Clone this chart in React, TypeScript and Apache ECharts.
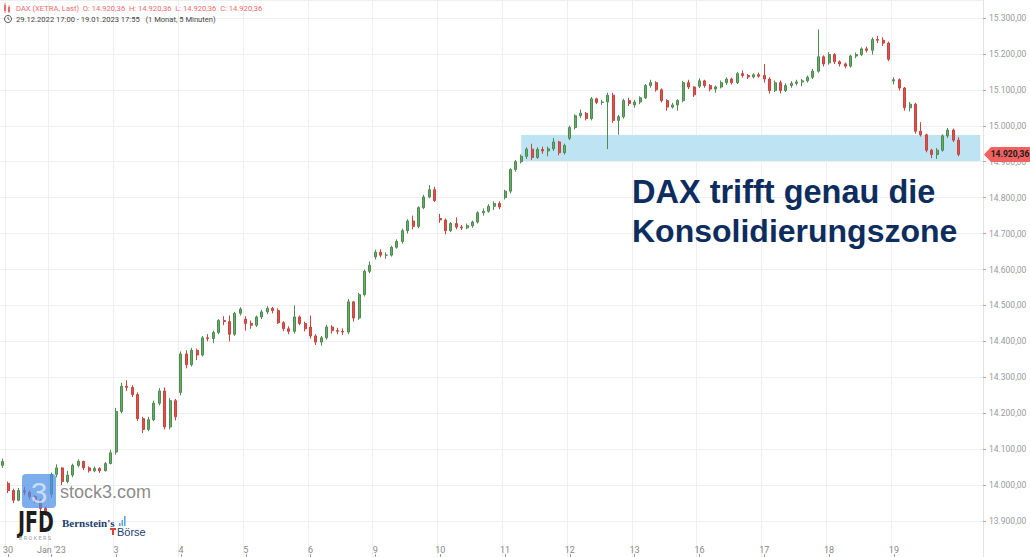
import React, { useEffect, useRef } from 'react';
import * as echarts from 'echarts';

// ---- DATA (each candle: [open, close, low, high]) ----
const dec29 = [[14055, 14066, 14048, 14074]];
const dec30 = [
  [14005, 13985, 13978, 14010], [13985, 13958, 13950, 13990], [13958, 13985, 13955, 13992], [13985, 13980, 13972, 13995],
  [13980, 13968, 13960, 13985], [13968, 13958, 13950, 13972], [13958, 13935, 13928, 13962], [13935, 13924, 13915, 13940],
];
const jan02 = [
  [13975, 14030, 13965, 14035], [14030, 14048, 14022, 14058], [14048, 14010, 14000, 14050], [14010, 14028, 14005, 14040],
  [14028, 14055, 14022, 14060], [14055, 14066, 14050, 14072], [14066, 14048, 14042, 14068], [14048, 14040, 14035, 14052],
  [14040, 14046, 14036, 14052], [14046, 14040, 14034, 14050], [14040, 14060, 14038, 14064], [14060, 14090, 14058, 14098],
];
const jan03 = [
  [14092, 14205, 14085, 14215], [14205, 14275, 14200, 14285], [14275, 14272, 14262, 14292], [14272, 14252, 14245, 14278],
  [14252, 14185, 14178, 14258], [14185, 14155, 14145, 14190], [14155, 14182, 14150, 14190], [14182, 14228, 14178, 14235],
  [14228, 14262, 14222, 14270], [14262, 14162, 14155, 14272], [14162, 14235, 14155, 14242], [14235, 14190, 14180, 14240],
];
const jan04 = [
  [14258, 14365, 14250, 14372], [14365, 14335, 14325, 14375], [14335, 14375, 14330, 14382], [14375, 14362, 14348, 14380],
  [14362, 14410, 14358, 14415], [14410, 14408, 14400, 14420], [14408, 14425, 14395, 14430], [14425, 14458, 14420, 14462],
  [14458, 14455, 14445, 14470], [14455, 14420, 14400, 14472], [14420, 14478, 14415, 14482], [14478, 14490, 14472, 14495],
];
const jan05 = [
  [14462, 14450, 14430, 14470], [14450, 14445, 14435, 14458], [14445, 14468, 14440, 14472], [14468, 14482, 14462, 14488],
  [14482, 14492, 14476, 14498], [14492, 14486, 14478, 14496], [14486, 14452, 14448, 14492], [14452, 14435, 14428, 14456],
  [14435, 14428, 14420, 14442], [14428, 14468, 14422, 14500], [14468, 14450, 14445, 14472], [14450, 14435, 14428, 14455],
];
const jan06 = [
  [14440, 14415, 14408, 14472], [14415, 14398, 14390, 14420], [14398, 14410, 14388, 14415], [14410, 14440, 14405, 14446],
  [14440, 14430, 14422, 14445], [14430, 14428, 14420, 14438], [14428, 14426, 14418, 14436], [14426, 14510, 14420, 14518],
  [14510, 14465, 14455, 14512], [14465, 14530, 14460, 14535], [14530, 14595, 14525, 14600], [14595, 14612, 14590, 14622],
];
const jan09 = [
  [14635, 14648, 14628, 14655], [14648, 14640, 14634, 14656], [14640, 14640, 14630, 14648], [14640, 14662, 14636, 14666],
  [14662, 14678, 14658, 14684], [14678, 14708, 14672, 14714], [14708, 14735, 14700, 14740], [14735, 14720, 14712, 14750],
  [14720, 14772, 14715, 14776], [14772, 14802, 14768, 14808], [14802, 14822, 14798, 14835], [14822, 14792, 14788, 14830],
];
const jan10 = [
  [14742, 14738, 14730, 14755], [14738, 14708, 14698, 14742], [14708, 14728, 14704, 14732], [14728, 14718, 14712, 14745],
  [14718, 14716, 14710, 14724], [14716, 14722, 14712, 14728], [14722, 14732, 14716, 14736], [14732, 14758, 14728, 14762],
  [14758, 14762, 14750, 14770], [14762, 14776, 14758, 14782], [14776, 14784, 14766, 14790], [14784, 14774, 14768, 14790],
];
const jan11 = [
  [14800, 14818, 14795, 14822], [14818, 14878, 14812, 14882], [14878, 14900, 14872, 14905], [14900, 14915, 14895, 14920],
  [14915, 14935, 14908, 14940], [14935, 14912, 14905, 14950], [14912, 14934, 14908, 14940], [14934, 14930, 14922, 14942],
  [14930, 14936, 14915, 14942], [14936, 14955, 14930, 14966], [14955, 14925, 14918, 14958], [14925, 14945, 14920, 14950],
];
const jan12 = [
  [14965, 14995, 14960, 15000], [14995, 15028, 14990, 15032], [15028, 15035, 15022, 15045], [15035, 15020, 15015, 15038],
  [15020, 15075, 15015, 15080], [15075, 15065, 15060, 15078], [15065, 15066, 15058, 15072], [15066, 15085, 14935, 15092],
  [15085, 15015, 15008, 15092], [15015, 15025, 14975, 15030], [15025, 15070, 15020, 15075], [15070, 15062, 15055, 15078],
];
const jan13 = [
  [15058, 15066, 15050, 15072], [15066, 15078, 15060, 15082], [15078, 15112, 15074, 15116], [15112, 15120, 15106, 15128],
  [15120, 15100, 15095, 15124], [15100, 15070, 15065, 15104], [15070, 15052, 15042, 15074], [15052, 15058, 15048, 15064],
  [15058, 15070, 15042, 15074], [15070, 15120, 15065, 15125], [15120, 15108, 15102, 15128], [15108, 15086, 15080, 15110],
];
const jan16 = [
  [15110, 15125, 15105, 15132], [15125, 15112, 15106, 15128], [15112, 15102, 15096, 15116], [15102, 15108, 15092, 15112],
  [15108, 15120, 15104, 15126], [15120, 15130, 15114, 15135], [15130, 15120, 15115, 15134], [15120, 15145, 15116, 15150],
  [15145, 15140, 15134, 15154], [15140, 15136, 15130, 15144], [15136, 15142, 15132, 15146], [15142, 15138, 15134, 15148],
];
const jan17 = [
  [15140, 15130, 15120, 15172], [15130, 15098, 15090, 15135], [15098, 15120, 15094, 15126], [15120, 15098, 15090, 15126],
  [15098, 15112, 15094, 15118], [15112, 15118, 15106, 15124], [15118, 15122, 15112, 15128], [15122, 15125, 15110, 15130],
  [15125, 15135, 15120, 15140], [15135, 15152, 15130, 15158], [15152, 15192, 15148, 15268], [15192, 15172, 15165, 15196],
];
const jan18 = [
  [15175, 15198, 15170, 15205], [15198, 15178, 15172, 15202], [15178, 15172, 15165, 15182], [15172, 15166, 15160, 15176],
  [15166, 15194, 15162, 15198], [15194, 15198, 15188, 15204], [15198, 15214, 15194, 15218], [15214, 15210, 15204, 15220],
  [15210, 15240, 15198, 15246], [15240, 15238, 15230, 15250], [15238, 15230, 15222, 15246], [15230, 15185, 15180, 15234],
];
const jan19 = [
  [15125, 15128, 15115, 15135], [15128, 15105, 15098, 15132], [15105, 15050, 15042, 15108], [15050, 15060, 15040, 15066],
  [15060, 14985, 14978, 15064], [14985, 14975, 14970, 15010], [14975, 14932, 14926, 14978], [14932, 14920, 14910, 14936],
  [14920, 14932, 14908, 14938], [14932, 14972, 14928, 14976], [14972, 14988, 14966, 14994], [14988, 14960, 14955, 14992],
  [14960, 14920.36, 14915, 14968],
];

const dayNames = ['29.12.', '30.12.', '02.01.', '03.01.', '04.01.', '05.01.', '06.01.', '09.01.', '10.01.', '11.01.', '12.01.', '13.01.', '16.01.', '17.01.', '18.01.', '19.01.'];
const dayTickLabels = ['', '30', "Jan '23", '3', '4', '5', '6', '9', '10', '11', '12', '13', '16', '17', '18', '19'];
const dayCandles = [dec29, dec30, jan02, jan03, jan04, jan05, jan06, jan09, jan10, jan11, jan12, jan13, jan16, jan17, jan18, jan19];
const emptySlotsRight = 4;

const zoneLow = 14902;
const zoneHigh = 14974;
const zoneStartCandle = 96;
const lastPrice = 14920.36;

const yMin = 13800;
const yMax = 15350;
const yStep = 100;

function fmtDE(v: number): string {
  const s = v.toFixed(2);
  const [i, d] = s.split('.');
  return i.replace(/\B(?=(\d{3})+(?!\d))/g, '.') + ',' + d;
}

export default function App() {
  const ref = useRef<HTMLDivElement>(null);
  useEffect(() => {
    if (!ref.current) return;
    const chart = echarts.init(ref.current, undefined, { renderer: 'svg' });

    const cats: string[] = [];
    const data: number[][] = [];
    const labelAt: Record<string, string> = {};
    const dayStart = new Set<number>();
    dayCandles.forEach((arr, d) => {
      arr.forEach((c, j) => {
        const name = dayNames[d] + ' #' + j;
        if (j === 0 && dayTickLabels[d] !== '') {
          dayStart.add(cats.length);
          labelAt[name] = dayTickLabels[d];
        }
        cats.push(name);
        data.push(c);
      });
    });
    for (let k = 0; k < emptySlotsRight; k++) cats.push('pad #' + k);
    const isStart = (i: number) => dayStart.has(i);

    const font = 'Roboto, "Liberation Sans", Arial, sans-serif';

    chart.setOption({
      animation: false,
      grid: { left: 0, right: 47, top: -2.1, bottom: -2.2, containLabel: false },
      xAxis: {
        type: 'category',
        data: cats,
        boundaryGap: true,
        axisLine: { show: false },
        axisTick: { show: true, inside: true, length: 3, alignWithLabel: true, interval: isStart, lineStyle: { color: '#9a9a9a' } },
        axisLabel: {
          inside: true,
          interval: isStart,
          formatter: (v: string) => labelAt[v] || '',
          color: '#888',
          fontSize: 9,
          fontFamily: font,
          margin: 3,
        },
        splitLine: { show: true, interval: isStart, lineStyle: { color: '#efefef', width: 1 } },
      },
      yAxis: {
        type: 'value',
        position: 'right',
        min: yMin,
        max: yMax,
        interval: yStep,
        axisLine: { show: true, lineStyle: { color: '#e2e2e2' } },
        axisTick: { show: true, length: 3, lineStyle: { color: '#aaa' } },
        axisLabel: {
          formatter: (v: number) => fmtDE(v),
          color: '#9a9a9a',
          fontSize: 8.5,
          fontFamily: font,
          margin: 6,
          showMaxLabel: false,
          showMinLabel: false,
        },
        splitLine: { show: true, lineStyle: { color: '#efefef', width: 1 } },
      },
      series: [
        {
          type: 'candlestick',
          data,
          barWidth: 2.5,
          itemStyle: {
            color: '#66ad66',
            color0: '#e0504d',
            borderColor: '#4f8a55',
            borderColor0: '#c4463f',
            borderWidth: 1,
          },
          markArea: {
            silent: true,
            itemStyle: { color: '#bee4f4', opacity: 1 },
            data: [[{ xAxis: cats[zoneStartCandle], yAxis: zoneHigh }, { xAxis: cats[cats.length - 1], yAxis: zoneLow }]],
          },
        },
      ],
    });

    const yPix = chart.convertToPixel({ yAxisIndex: 0 }, lastPrice) as number;

    const headerColor = '#f06a6a';
    chart.setOption({
      graphic: [
        // header line 1 icon (small candles)
        { type: 'rect', z: 100, shape: { x: 4, y: 5, width: 2, height: 6 }, style: { fill: headerColor } },
        { type: 'line', z: 100, shape: { x1: 5, y1: 3, x2: 5, y2: 13 }, style: { stroke: headerColor, lineWidth: 0.8 } },
        { type: 'rect', z: 100, shape: { x: 8, y: 7, width: 2, height: 5 }, style: { fill: headerColor } },
        { type: 'line', z: 100, shape: { x1: 9, y1: 5, x2: 9, y2: 13 }, style: { stroke: headerColor, lineWidth: 0.8 } },
        {
          type: 'text', z: 100, x: 16, y: 8,
          style: { text: 'DAX (XETRA, Last)  O: 14.920,36  H: 14.920,36  L: 14.920,36  C: 14.920,36', fill: headerColor, font: '7.6px ' + font, textVerticalAlign: 'middle' },
        },
        // clock icon
        { type: 'circle', z: 100, shape: { cx: 8, cy: 19, r: 3.5 }, style: { fill: 'none', stroke: '#444', lineWidth: 0.9 } },
        { type: 'polyline', z: 100, shape: { points: [[8, 17], [8, 19], [9.6, 20]] }, style: { fill: 'none', stroke: '#444', lineWidth: 0.8 } },
        {
          type: 'text', z: 100, x: 16, y: 19,
          style: { text: '29.12.2022 17:00 - 19.01.2023 17:55   (1 Monat, 5 Minuten)', fill: '#444', font: '7.6px ' + font, textVerticalAlign: 'middle' },
        },
        // annotation
        {
          type: 'text', z: 100, x: 632, y: 192,
          style: { text: 'DAX trifft genau die', fill: '#0d2d5e', font: 'bold 32.5px "Liberation Sans", Arial, sans-serif', textVerticalAlign: 'middle' },
        },
        {
          type: 'text', z: 100, x: 632, y: 231,
          style: { text: 'Konsolidierungszone', fill: '#0d2d5e', font: 'bold 32px "Liberation Sans", Arial, sans-serif', textVerticalAlign: 'middle' },
        },
        // stock3 watermark
        { type: 'rect', z: 100, shape: { x: 22, y: 474, width: 34, height: 34, r: 4 }, style: { fill: '#4a8ee6', opacity: 0.72 } },
        {
          type: 'text', z: 101, x: 39, y: 492,
          style: { text: '3', fill: '#ffffff', opacity: 0.6, font: '30px "Liberation Sans", Arial, sans-serif', textAlign: 'center', textVerticalAlign: 'middle' },
        },
        {
          type: 'text', z: 100, x: 60, y: 492,
          style: { text: 'stock3.com', fill: '#7c7c7c', opacity: 0.9, font: '18px "Liberation Sans", Arial, sans-serif', textVerticalAlign: 'middle' },
        },
        // JFD
        {
          type: 'text', z: 100, x: 18, y: 523, scaleX: 0.68,
          style: { text: 'JFD', fill: '#1d1d1d', font: 'bold 28px "DejaVu Sans", sans-serif', textVerticalAlign: 'middle' },
        },
        {
          type: 'text', z: 100, x: 19, y: 538,
          style: { text: 'B R O K E R S', fill: '#9a9a9a', font: '5.5px ' + font, textVerticalAlign: 'middle' },
        },
        // Bernstein's Börse
        {
          type: 'text', z: 100, x: 62, y: 523,
          style: { text: "Bernstein's", fill: '#1d3d6b', font: 'bold 11px "Liberation Serif", serif', textVerticalAlign: 'middle' },
        },
        { type: 'rect', z: 100, shape: { x: 119, y: 523, width: 1.6, height: 3 }, style: { fill: '#5aa8e6' } },
        { type: 'rect', z: 100, shape: { x: 121.5, y: 520, width: 1.6, height: 6 }, style: { fill: '#5aa8e6' } },
        { type: 'rect', z: 100, shape: { x: 124, y: 516, width: 1.6, height: 10 }, style: { fill: '#5aa8e6' } },
        { type: 'rect', z: 100, shape: { x: 110, y: 528, width: 6, height: 2 }, style: { fill: '#e0403a' } },
        { type: 'rect', z: 100, shape: { x: 112, y: 528, width: 2, height: 7 }, style: { fill: '#e0403a' } },
        {
          type: 'text', z: 100, x: 117, y: 532,
          style: { text: 'Börse', fill: '#1d3d6b', font: '11px "Liberation Sans", Arial, sans-serif', textVerticalAlign: 'middle' },
        },
        // last price tag
        {
          type: 'polygon', z: 100,
          shape: { points: [[984, yPix], [991, yPix - 7.5], [1030, yPix - 7.5], [1030, yPix + 7.5], [991, yPix + 7.5]] },
          style: { fill: '#f06262' },
        },
        {
          type: 'text', z: 101, x: 1010, y: yPix,
          style: { text: fmtDE(lastPrice), fill: '#1a1a1a', font: 'bold 8.5px ' + font, textAlign: 'center', textVerticalAlign: 'middle' },
        },
      ],
    });

    return () => chart.dispose();
  }, []);
  return <div ref={ref} style={{ position: 'fixed', left: 0, top: 0, width: 1030, height: 557, background: '#fff' }} />;
}
